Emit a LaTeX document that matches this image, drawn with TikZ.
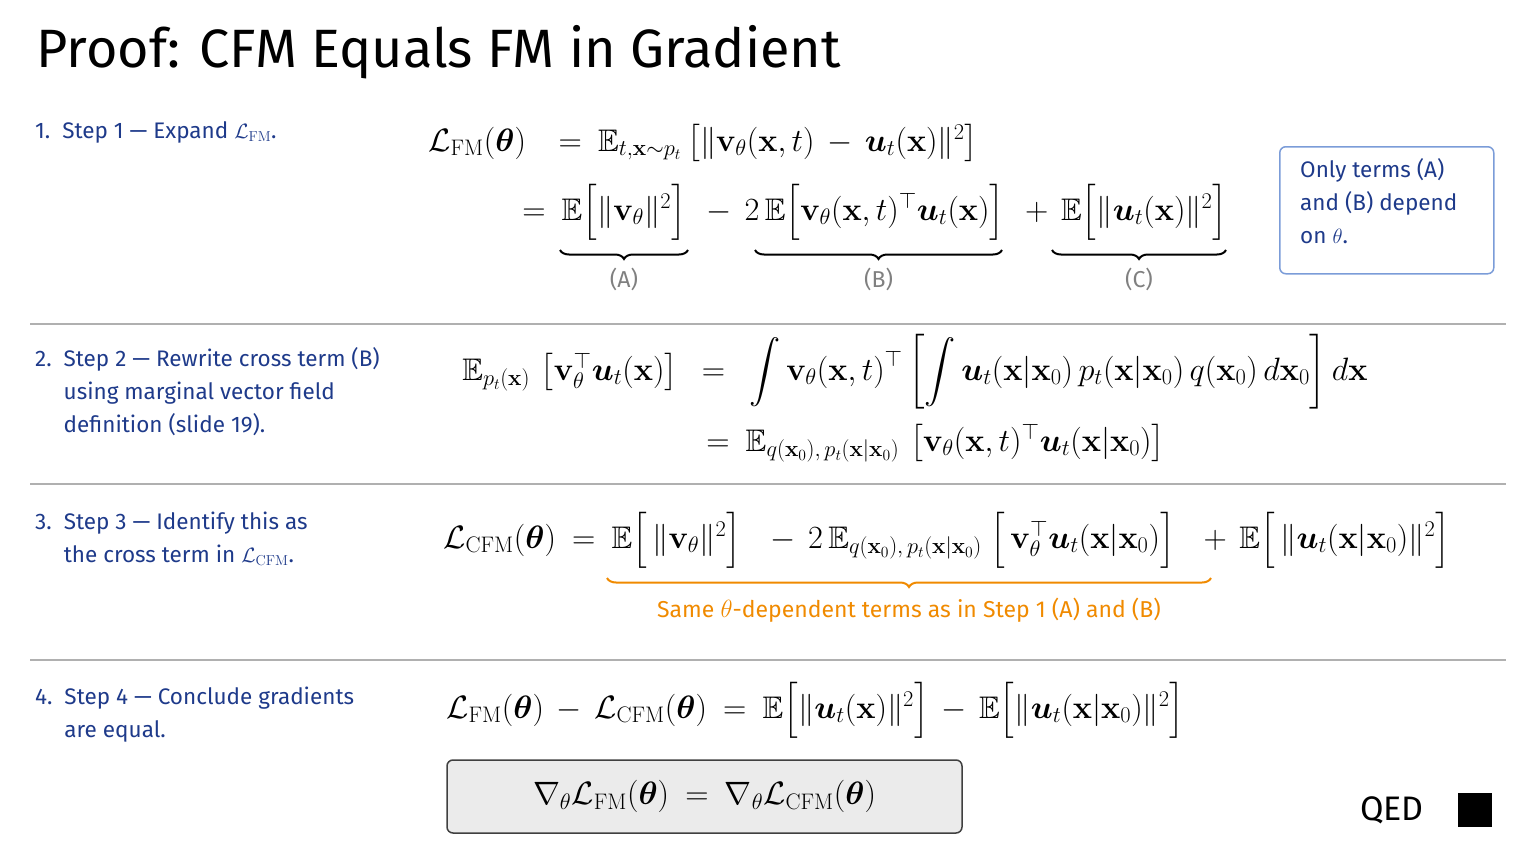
\documentclass[tikz,border=0pt]{standalone}
\usepackage{amsmath,amssymb,bm}
\usepackage[no-math]{fontspec}
\setmainfont{Fira Sans}
\usetikzlibrary{decorations.pathreplacing}
\definecolor{stepblue}{HTML}{1E3A8A}
\definecolor{boxblue}{HTML}{7B9CD8}
\definecolor{orng}{HTML}{F08A00}
\definecolor{sep}{HTML}{B0B0B0}
\newcommand{\vt}{\mathbf{v}_{\theta}}
\newcommand{\ut}{\bm{u}_t}
\newcommand{\xx}{\mathbf{x}}
\newcommand{\eqsp}{\thickmuskip=9mu\relax\medmuskip=7mu\relax}
\begin{document}
\begin{tikzpicture}[x=1pt,y=-1pt,
  steptxt/.style={anchor=north west,text=stepblue,font=\fontsize{22.5}{33}\selectfont,align=left,inner sep=0},
  eq/.style={anchor=west,inner sep=0,font=\fontsize{24}{28}\selectfont\eqsp,scale=1.3},
  brc/.style={decorate,decoration={brace,mirror,amplitude=9pt},line width=2pt},
  lab/.style={text=gray,font=\fontsize{23}{26}\selectfont},
  sepline/.style={draw=sep,line width=1.2pt}]
\useasboundingbox (0,0) rectangle (1536,864);
\node[anchor=west,font=\fontsize{54}{58}\selectfont] (title) at (33,52) {Proof: CFM Equals FM in Gradient};
% step 1
\node[steptxt] (s1) at (35,121) {1.\ \ Step 1 — Expand $\mathcal{L}_{\mathrm{FM}}$.};
\node[eq] (e1a) at (428,143) {$\mathcal{L}_{\mathrm{FM}}(\bm\theta)\ \ =\mathbb{E}_{t,\xx\sim p_t}\left[\|\vt(\xx,t)-\ut(\xx)\|^2\right]$};
\node[eq] (e1b) at (522,212) {$=\mathbb{E}\Big[\|\vt\|^2\Big]\ -2\,\mathbb{E}\Big[\vt(\xx,t)^\top\ut(\xx)\Big]\ +\mathbb{E}\Big[\|\ut(\xx)\|^2\Big]$};
\coordinate (a1) at (560,250); \coordinate (a2) at (688,250);
\coordinate (b1) at (755,250); \coordinate (b2) at (1002,250);
\coordinate (c1) at (1052,250); \coordinate (c2) at (1226,250);
\draw[brc] (a1) -- (a2) node[midway,below=14pt,lab] (la) {(A)};
\draw[brc] (b1) -- (b2) node[midway,below=14pt,lab] (lb) {(B)};
\draw[brc] (c1) -- (c2) node[midway,below=14pt,lab] (lc) {(C)};
\node[draw=boxblue,line width=1.5pt,rounded corners=6pt,minimum width=214pt,minimum height=127pt,anchor=north west] (note) at (1279,146) {};
\node[steptxt,text=stepblue] (notet) at (1300,158) {Only terms (A)\\and (B) depend\\on $\theta$.};
\draw[sepline] (30,324) -- (1506,324);
% step 2
\node[steptxt] (s2) at (35,347) {2.\ \ Step 2 — Rewrite cross term (B)\\\phantom{2.\ \ }using marginal vector field\\\phantom{2.\ \ }definition (slide 19).};
\node[eq] (e2a) at (462,372) {$\mathbb{E}_{p_t(\xx)}\,\left[\vt^\top\ut(\xx)\right]\ =\ \displaystyle\int\vt(\xx,t)^\top\left[\int\ut(\xx|\xx_0)\,p_t(\xx|\xx_0)\,q(\xx_0)\,d\xx_0\right]d\xx$};
\node[eq] (e2b) at (706,443) {$=\mathbb{E}_{q(\xx_0),\,p_t(\xx|\xx_0)}\,\left[\vt(\xx,t)^\top\ut(\xx|\xx_0)\right]$};
\draw[sepline] (30,484) -- (1506,484);
% step 3
\node[steptxt] (s3) at (35,512) {3.\ \ Step 3 — Identify this as\\\phantom{3.\ \ }the cross term in $\mathcal{L}_{\mathrm{CFM}}$.};
\node[eq] (e3) at (443,540) {$\mathcal{L}_{\mathrm{CFM}}(\bm\theta)=\mathbb{E}\Big[\,\|\vt\|^2\Big]\ \ -2\,\mathbb{E}_{q(\xx_0),\,p_t(\xx|\xx_0)}\ \Big[\,\vt^\top\ut(\xx|\xx_0)\Big]\;+\mathbb{E}\Big[\,\|\ut(\xx|\xx_0)\|^2\Big]$};
\coordinate (o1) at (607,578); \coordinate (o2) at (1211,578);
\draw[brc,draw=orng] (o1) -- (o2) node[midway,below=16pt,text=orng,font=\fontsize{23}{26}\selectfont] (lo) {Same $\theta$-dependent terms as in Step 1 (A) and (B)};
\draw[sepline] (30,660) -- (1506,660);
% step 4
\node[steptxt] (s4) at (35,687) {4.\ \ Step 4 — Conclude gradients\\\phantom{4.\ \ }are equal.};
\node[eq] (e4) at (446,710) {$\mathcal{L}_{\mathrm{FM}}(\bm\theta)-\mathcal{L}_{\mathrm{CFM}}(\bm\theta)=\mathbb{E}\Big[\|\ut(\xx)\|^2\Big]-\mathbb{E}\Big[\|\ut(\xx|\xx_0)\|^2\Big]$};
\node[draw=black!75,line width=1.5pt,fill=black!8,rounded corners=6pt,minimum width=515pt,minimum height=73pt] (res) at (704.5,796.5) {};
\node[font=\fontsize{24}{28}\selectfont\eqsp,scale=1.3,inner sep=0] (rest) at (res.center) {$\nabla_\theta\mathcal{L}_{\mathrm{FM}}(\bm\theta)=\nabla_\theta\mathcal{L}_{\mathrm{CFM}}(\bm\theta)$};
\node[anchor=west,font=\fontsize{34}{38}\selectfont,inner sep=0] (qed) at (1360,810) {QED};
\fill (1458,793) rectangle (1492,827);
\end{tikzpicture}
\end{document}
